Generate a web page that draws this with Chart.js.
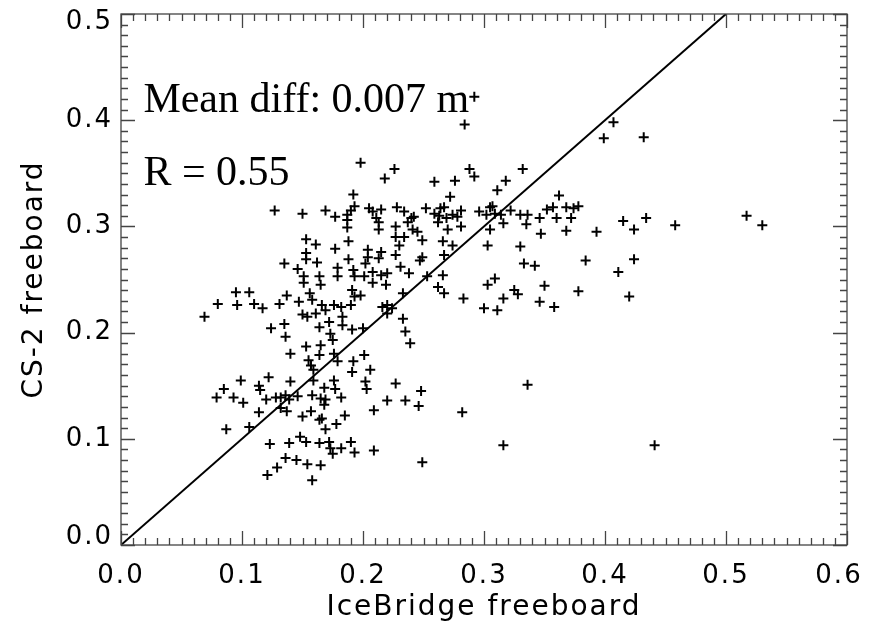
<!DOCTYPE html>
<html>
<head>
<meta charset="utf-8">
<script src="https://cdn.jsdelivr.net/npm/chart.js@4.4.1/dist/chart.umd.min.js"></script>
<style>
html,body{margin:0;padding:0;background:#fff;}
#wrap{position:relative;width:871px;height:628px;}
</style>
</head>
<body>
<div id="wrap"><canvas id="c" width="871" height="628"></canvas></div>
<script>
// IceBridge freeboard (x) and CS-2 freeboard (y), metres
const iceBridge = [
0.407,0.399,0.432,0.517,0.530,0.393,0.415,0.424,0.434,0.458,0.424,0.411,0.420,0.441,
0.233,0.235,0.239,0.227,0.248,0.235,0.246,0.282,0.336,0.316,0.249,
0.292,0.284,0.226,0.288,0.292,0.332,0.259,0.276,0.318,0.311,0.272,0.362,
0.228,0.234,0.240,0.237,0.242,0.252,0.259,0.263,0.264,0.267,0.262,0.269,0.274,0.281,0.278,
0.296,0.302,0.305,0.307,0.309,0.314,0.322,0.330,0.336,0.346,0.352,0.357,0.360,0.368,0.374,0.378,0.372,
0.335,0.316,0.305,0.281,0.270,
0.227,0.227,0.234,0.230,0.227,0.231,0.238,0.233,0.224,0.241,0.245,0.249,0.247,0.249,0.253,0.262,0.266,0.267,0.283,
0.266,0.274,0.267,0.303,0.330,0.333,0.342,0.347,0.368,0.384,0.378,0.350,0.346,0.358,0.309,0.303,0.316,0.311,0.300,0.325,0.328,
0.198,0.218,0.192,0.127,0.150,0.169,0.177,0.193,0.190,0.187,0.187,0.187,0.205,0.208,0.215,0.211,0.213,0.213,
0.153,0.161,0.177,0.188,0.153,0.153,0.162,0.135,0.146,0.151,0.151,0.164,0.165,0.179,0.179,0.188,0.192,0.193,0.201,
0.204,0.204,0.202,0.215,0.213,0.208,0.208,0.215,0.219,0.220,
0.095,0.106,0.080,0.096,0.110,0.117,0.131,0.137,0.147,0.156,0.158,0.166,0.169,0.176,0.182,0.191,0.193,0.198,0.190,0.216,0.220,0.069,
0.124,0.135,0.136,0.140,0.150,0.154,0.161,0.183,0.183,0.172,0.164,0.191,0.200,0.220,0.173,0.175,0.153,0.165,0.164,0.176,0.179,
0.155,0.157,0.159,0.159,0.201,0.192,0.191,0.206,0.202,0.203,
0.099,0.122,0.140,0.114,0.115,0.085,0.079,0.093,0.101,0.120,0.128,0.132,0.136,0.139,0.146,0.132,0.137,0.114,0.150,0.157,
0.158,0.168,0.165,0.169,0.168,0.176,0.177,0.182,0.164,0.166,0.185,0.178,0.169,0.209,0.220,
0.087,0.106,0.123,0.139,0.148,0.153,0.164,0.172,0.173,0.175,0.182,0.190,0.193,0.209,0.136,0.145,0.154,0.165,0.129,0.121,0.158
];
const cs2 = [
0.398,0.383,0.384,0.310,0.301,0.295,0.305,0.297,0.308,0.301,0.269,0.257,0.234,0.094,
0.213,0.201,0.190,0.152,0.145,0.136,0.131,0.125,0.151,0.094,0.078,
0.422,0.396,0.354,0.354,0.347,0.354,0.342,0.343,0.343,0.334,0.328,0.329,
0.318,0.314,0.308,0.304,0.309,0.317,0.312,0.310,0.317,0.318,0.304,0.308,0.311,0.315,0.309,
0.314,0.311,0.318,0.319,0.312,0.311,0.315,0.311,0.311,0.308,0.316,0.318,0.308,0.318,0.317,0.319,0.308,
0.302,0.303,0.297,0.300,0.297,
0.300,0.290,0.290,0.282,0.273,0.262,0.256,0.237,0.223,0.297,0.295,0.287,0.268,0.271,0.253,0.243,0.254,0.237,0.232,
0.286,0.282,0.273,0.282,0.281,0.265,0.263,0.293,0.296,0.268,0.239,0.244,0.229,0.224,0.251,0.245,0.232,0.221,0.223,0.240,0.236,
0.360,0.345,0.330,0.315,0.312,0.315,0.309,0.319,0.315,0.311,0.306,0.299,0.317,0.314,0.316,0.308,0.304,0.297,
0.288,0.283,0.279,0.286,0.275,0.269,0.266,0.265,0.260,0.253,0.247,0.253,0.245,0.261,0.253,0.269,0.259,0.253,0.253,
0.278,0.271,0.265,0.276,0.270,0.257,0.247,0.254,0.245,0.256,
0.238,0.238,0.227,0.226,0.227,0.223,0.227,0.235,0.229,0.237,0.231,0.226,0.221,0.226,0.224,0.240,0.234,0.235,0.226,0.224,0.226,0.215,
0.204,0.208,0.196,0.180,0.217,0.215,0.218,0.215,0.207,0.210,0.205,0.203,0.204,0.218,0.199,0.193,0.187,0.188,0.179,0.180,0.173,
0.174,0.169,0.165,0.155,0.179,0.173,0.163,0.165,0.154,0.147,
0.155,0.158,0.154,0.150,0.146,0.147,0.139,0.139,0.134,0.137,0.139,0.139,0.141,0.137,0.140,0.129,0.126,0.125,0.121,0.126,
0.141,0.148,0.138,0.137,0.132,0.155,0.147,0.139,0.118,0.119,0.122,0.114,0.109,0.127,0.136,
0.109,0.111,0.095,0.096,0.102,0.097,0.096,0.097,0.091,0.086,0.091,0.097,0.087,0.089,0.082,0.080,0.076,0.075,0.073,0.066,0.061
];
const oneToOneX = [0.0, 0.5];
const oneToOneY = [0.0, 0.5];
const xTickValues = [0.0, 0.1, 0.2, 0.3, 0.4, 0.5, 0.6];
const yTickValues = [0.0, 0.1, 0.2, 0.3, 0.4, 0.5];
const annotations = ["Mean diff: 0.007 m", "R = 0.55"];

const points = iceBridge.map((x, i) => ({x: x, y: cs2[i]}));
const linePts = oneToOneX.map((x, i) => ({x: x, y: oneToOneY[i]}));

const frameTicks = {
  id: 'frameTicks',
  beforeDraw(chart) {
    chart.ctx.letterSpacing = '2px';
    // nudge the end labels inward, as in the original plot
    const yi = chart.scales.y.getLabelItems();
    if (yi.length && !yi._nudged) {
      yi[0].options.translation[1] -= 8;
      yi[yi.length - 1].options.translation[1] += 8;
      yi._nudged = true;
    }
    const xi = chart.scales.x.getLabelItems();
    if (xi.length && !xi._nudged) {
      xi[xi.length - 1].options.translation[0] -= 8;
      xi._nudged = true;
    }
  },
  beforeDatasetsDraw(chart) {
    const ctx = chart.ctx;
    const xs = chart.scales.x, ys = chart.scales.y;
    ctx.save();
    ctx.letterSpacing = '0px';
    ctx.fillStyle = '#000';
    ctx.font = '42px "Liberation Serif", "Times New Roman", serif';
    ctx.textBaseline = 'alphabetic';
    ctx.textAlign = 'left';
    const x0 = xs.getPixelForValue(0.0185);
    ctx.fillText(annotations[0], x0, ys.getPixelForValue(0.4077));
    ctx.fillText(annotations[1], x0, ys.getPixelForValue(0.339));
    ctx.restore();
  },
  afterDraw(chart) {
    const ctx = chart.ctx;
    const a = chart.chartArea;
    const xs = chart.scales.x, ys = chart.scales.y;
    ctx.save();
    ctx.strokeStyle = '#444';
    ctx.lineWidth = 1.3;
    ctx.strokeRect(a.left, a.top, a.right - a.left, a.bottom - a.top);
    const major = 14, minor = 7;
    ctx.beginPath();
    for (let i = 0; i <= 60; i++) {
      const v = i / 100;
      const px = Math.round(xs.getPixelForValue(v)) + 0.5;
      const L = (i % 10 === 0) ? major : minor;
      ctx.moveTo(px, a.bottom); ctx.lineTo(px, a.bottom - L);
      ctx.moveTo(px, a.top); ctx.lineTo(px, a.top + L);
    }
    for (let i = 0; i <= 50; i++) {
      const v = i / 100;
      const py = Math.round(ys.getPixelForValue(v)) + 0.5;
      const L = (i % 10 === 0) ? major : minor;
      ctx.moveTo(a.left, py); ctx.lineTo(a.left + L, py);
      ctx.moveTo(a.right, py); ctx.lineTo(a.right - L, py);
    }
    ctx.stroke();
    ctx.restore();
  }
};

new Chart(document.getElementById('c'), {
  type: 'scatter',
  data: {
    datasets: [
      {
        type: 'line',
        data: linePts,
        borderColor: '#000',
        borderWidth: 2,
        pointRadius: 0,
        fill: false
      },
      {
        data: points,
        pointStyle: 'cross',
        pointRadius: 5,
        pointBorderWidth: 2,
        borderColor: '#000',
        backgroundColor: '#000'
      }
    ]
  },
  options: {
    responsive: false,
    animation: false,
    events: [],
    layout: { padding: { top: 14, right: 24, left: 0, bottom: 0 } },
    plugins: { legend: { display: false }, tooltip: { enabled: false } },
    scales: {
      x: {
        type: 'linear',
        min: 0, max: 0.6,
        afterFit(s) { s.height = 83; s.paddingLeft = 0; s.paddingRight = 0; s.paddingTop = 0; s.paddingBottom = 0; },
        afterBuildTicks(s) { s.ticks = xTickValues.map(v => ({value: v})); },
        grid: { display: false, drawTicks: false },
        border: { display: false },
        ticks: {
          color: '#000',
          padding: 16,
          maxRotation: 0,
          font: { family: '"DejaVu Sans", sans-serif', size: 26 },
          callback: v => Number(v).toFixed(1)
        },
        title: {
          display: true,
          text: 'IceBridge freeboard',
          color: '#000',
          font: { family: '"DejaVu Sans", sans-serif', size: 28 },
          padding: { top: 0, bottom: 3 }
        }
      },
      y: {
        type: 'linear',
        min: 0, max: 0.5,
        afterFit(s) { s.width = 121; s.paddingLeft = 0; s.paddingRight = 0; s.paddingTop = 0; s.paddingBottom = 0; },
        afterBuildTicks(s) { s.ticks = yTickValues.map(v => ({value: v})); },
        grid: { display: false, drawTicks: false },
        border: { display: false },
        ticks: {
          color: '#000',
          padding: 8,
          font: { family: '"DejaVu Sans", sans-serif', size: 26 },
          callback: v => Number(v).toFixed(1)
        },
        title: {
          display: true,
          text: 'CS-2 freeboard',
          color: '#000',
          font: { family: '"DejaVu Sans", sans-serif', size: 28 },
          padding: { top: 18, bottom: 0 }
        }
      }
    }
  },
  plugins: [frameTicks]
});
</script>
</body>
</html>
